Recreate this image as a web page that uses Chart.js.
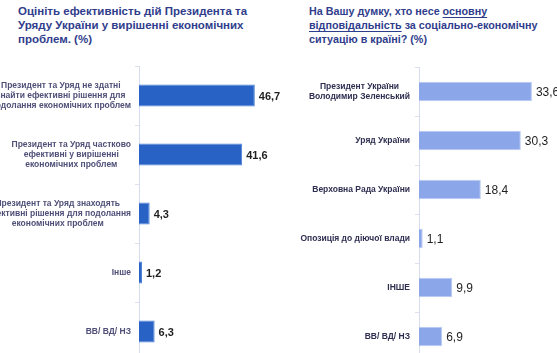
<!DOCTYPE html>
<html><head><meta charset="utf-8">
<script src="https://cdn.jsdelivr.net/npm/chart.js@4"></script>
<style>
html,body{margin:0;padding:0;background:#fff;overflow:hidden;width:557px;height:353px}
.t{position:absolute;top:4px;font-family:"Liberation Sans",Arial,sans-serif;font-weight:bold;line-height:14px;color:#2f3d8c;white-space:nowrap}
.p{position:absolute;top:0}
u{text-decoration-thickness:1px;text-underline-offset:2px}
</style></head><body>
<div class="t" style="left:18px;font-size:11.5px">Оцініть ефективність дій Президента та<br>Уряду України у вирішенні економічних<br>проблем. (%)</div>
<div class="t" style="left:309px;font-size:10.75px">На Вашу думку, хто несе <u>основну</u><br><u>відповідальність</u> за соціально-економічну<br>ситуацію в країні? (%)</div>
<div class="p" style="left:0"><canvas id="c1" width="290" height="370"></canvas></div>
<div class="p" style="left:280px"><canvas id="c2" width="277" height="370"></canvas></div>
<script>
const leftCategories = [
  ["Президент та Уряд не здатні", "знайти ефективні рішення для", "подолання економічних проблем"],
  ["Президент та Уряд частково", "ефективні у вирішенні", "економічних проблем"],
  ["Президент та Уряд знаходять", "ефективні рішення для подолання", "економічних проблем"],
  "Інше",
  "ВВ/ ВД/ НЗ"
];
const leftValues = [46.7, 41.6, 4.3, 1.2, 6.3];

const rightCategories = [
  ["Президент України", "Володимир Зеленський"],
  "Уряд України",
  "Верховна Рада України",
  "Опозиція до діючої влади",
  "ІНШЕ",
  "ВВ/ ВД/ НЗ"
];
const rightValues = [33.6, 30.3, 18.4, 1.1, 9.9, 6.9];

const FONT = '"Liberation Sans", Arial, sans-serif';

const labelPlugin = {
  id: 'blockLabels',
  afterDraw(chart, args, opts) {
    const ctx = chart.ctx, sc = chart.scales.y;
    ctx.save();
    ctx.font = 'bold ' + opts.size + 'px ' + FONT;
    ctx.fillStyle = opts.color;
    ctx.textBaseline = 'middle';
    ctx.textAlign = 'center';
    chart.data.labels.forEach((lab, i) => {
      const lines = Array.isArray(lab) ? lab : [lab];
      const w = Math.max(...lines.map(l => ctx.measureText(l).width));
      const cx = sc.right - opts.pad - w / 2;
      const y0 = sc.getPixelForTick(i) - (lines.length - 1) * opts.lh / 2;
      lines.forEach((l, k) => ctx.fillText(l, cx, y0 + k * opts.lh));
    });
    ctx.restore();
  }
};

const valuePlugin = {
  id: 'values',
  afterDatasetsDraw(chart, args, opts) {
    const ctx = chart.ctx;
    ctx.save();
    ctx.font = opts.weight + ' ' + opts.size + 'px ' + FONT;
    ctx.fillStyle = opts.color;
    ctx.textBaseline = 'middle';
    ctx.textAlign = 'left';
    const meta = chart.getDatasetMeta(0);
    meta.data.forEach((bar, i) => {
      const v = chart.data.datasets[0].data[i];
      ctx.fillText(v.toFixed(1).replace('.', ','), bar.x + 4, bar.y + 1);
    });
    ctx.restore();
  }
};

function makeChart(id, labels, values, cfg) {
  return new Chart(document.getElementById(id), {
    type: 'bar',
    data: {
      labels: labels,
      datasets: [{
        data: values,
        backgroundColor: cfg.fill,
        borderColor: cfg.border,
        borderWidth: 1,
        categoryPercentage: 1,
        barPercentage: cfg.barPct
      }]
    },
    plugins: [labelPlugin, valuePlugin],
    options: {
      indexAxis: 'y',
      responsive: false,
      devicePixelRatio: 1,
      animation: false,
      layout: { padding: { top: cfg.top, bottom: 370 - cfg.bottom, left: 0, right: cfg.padRight } },
      plugins: {
        legend: { display: false },
        tooltip: { enabled: false },
        blockLabels: { size: 8.5, lh: 10, pad: cfg.labelPad, color: cfg.labelColor },
        values: { size: cfg.valSize, weight: cfg.valWeight, color: '#1f1f1f' }
      },
      scales: {
        x: { display: false, min: 0, max: cfg.xmax },
        y: {
          display: true,
          offset: true,
          ticks: { display: false },
          grid: { display: true, offset: true, drawOnChartArea: false, drawTicks: true, tickLength: 4, color: '#dde2ef' },
          border: { display: true, color: '#d6dcee', width: 1 },
          afterFit(scale) { scale.width = 139; }
        }
      }
    }
  });
}

makeChart('c1', leftCategories, leftValues, {
  fill: '#2862c4', border: '#4d80d8', barPct: 0.375, top: 66, bottom: 361,
  xmax: 50, padRight: 290 - 139 - 50 * 2.48, labelPad: 8, labelColor: '#4f4f78',
  valSize: 11, valWeight: 'bold'
});
makeChart('c2', rightCategories, rightValues, {
  fill: '#8ba6e9', border: '#b9c9f2', barPct: 0.4, top: 67, bottom: 361,
  xmax: 40, padRight: 277 - 139 - 40 * 3.36, labelPad: 9, labelColor: '#2e2e50',
  valSize: 12, valWeight: 'normal'
});
</script>
</body></html>
